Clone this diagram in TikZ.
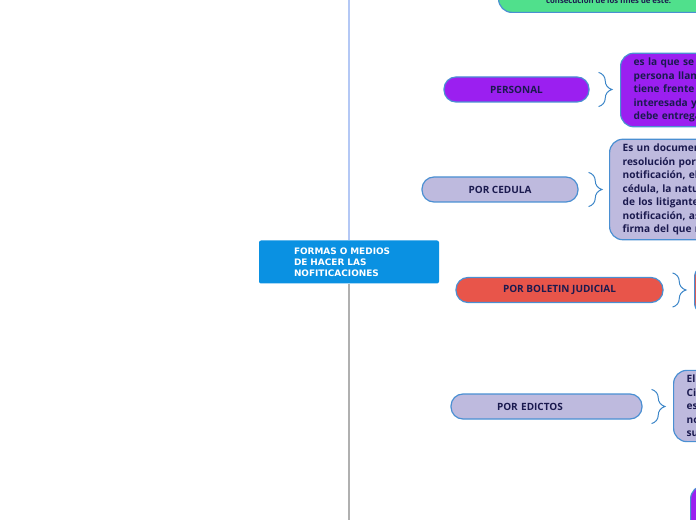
\documentclass[tikz,border=0pt]{standalone}
\usepackage{fontspec}
\setmainfont{Open Sans}
\newfontfamily\rootfont{DejaVu Sans}
\usepackage{tikz}
\usepackage{xcolor}
\usetikzlibrary{decorations.pathreplacing}

\definecolor{rootblue}{HTML}{0A91E2}
\definecolor{edgeblue}{HTML}{4A8FD2}
\definecolor{braceblue}{HTML}{3C86C8}
\definecolor{navytext}{HTML}{1B1A4F}
\definecolor{purplebox}{HTML}{9B1FF0}
\definecolor{lavbox}{HTML}{BEBADE}
\definecolor{redbox}{HTML}{E8554A}
\definecolor{greenbox}{HTML}{50E08C}
\definecolor{spineup}{HTML}{B4C8F5}
\definecolor{spinedown}{HTML}{B0B0B0}

\begin{document}
\begin{tikzpicture}[
    x=0.75pt, y=-0.75pt,
    font=\bfseries\fontsize{7.6}{10.1}\selectfont, text=navytext,
    root/.style={rectangle, rounded corners=1.5pt, fill=rootblue, minimum width=135pt, minimum height=32.25pt, inner xsep=26.25pt, text width=82.5pt, align=left, text=white, font=\rootfont\bfseries\fontsize{6.7}{8.4}\selectfont},
    topic/.style={rectangle, rounded corners=9pt, draw=edgeblue, line width=0.9pt, minimum height=18.75pt, inner sep=0pt, align=center, font=\bfseries\fontsize{7.5}{9}\selectfont},
    note/.style={rectangle, rounded corners=10pt, draw=edgeblue, line width=0.9pt, text width=130pt, inner xsep=9.75pt, inner ysep=3.6pt, align=left, anchor=west},
    brc/.style={draw=braceblue, line width=0.75pt, decorate, decoration={brace, amplitude=10pt}},
    spine/.style={line width=1.1pt}
]

\useasboundingbox (0,0) rectangle (696,520);

\coordinate (top) at (349,0);
\coordinate (bottom) at (349,520);

\node[root] (root) at (349,262) {FORMAS O MEDIOS\\DE HACER LAS\\NOFITICACIONES};
\draw[spine, spineup] (root.north) -- (top);
\draw[spine, spinedown] (root.south) -- (bottom);

\node[rectangle, rounded corners=10pt, draw=edgeblue, line width=0.9pt, fill=greenbox, anchor=south west, minimum width=165pt, inner ysep=7pt, text height=30pt, text depth=0pt, align=center, font=\bfseries\fontsize{5.8}{7}\selectfont] (consec) at (498,13) {consecución de los fines de este.};

\node[topic, fill=purplebox, minimum width=108.75pt] (personal) at (516.5,89.5) {PERSONAL};
\node[topic, fill=lavbox, minimum width=117pt] (cedula) at (500,189.5) {POR CEDULA};
\node[topic, fill=redbox, minimum width=155.25pt] (boletin) at (559.5,290) {POR BOLETIN JUDICIAL};
\node[topic, fill=lavbox, minimum width=143.25pt, inner xsep=34.5pt, text width=74.25pt, align=left] (edictos) at (546.5,406.5) {POR EDICTOS};

\node[note, fill=purplebox] (personaltxt) at (620,90) {es la que se h\\persona llam\\tiene frente a\\interesada y\\debe entrega};
\node[note, fill=lavbox] (cedulatxt) at (609,189.5) {Es un documen\\resolución por r\\notificación, el\\cédula, la natu\\de los litigante\\notificación, as\\firma del que n};
\node[note, fill=redbox, minimum height=39pt] (boletintxt) at (694,290) {};
\node[note, fill=lavbox] (edictostxt) at (673,406) {El\\Ci\\es\\no\\su};
\node[note, fill=purplebox, anchor=north west, minimum height=60pt] (lastbox) at (690,485) {};

\draw[brc] ([xshift=6.75pt,yshift=3pt]personal.north east) -- ([xshift=6.75pt,yshift=-3pt]personal.south east);
\draw[brc] ([xshift=7.5pt,yshift=3pt]cedula.north east) -- ([xshift=7.5pt,yshift=-3pt]cedula.south east);
\draw[brc] ([xshift=6.75pt,yshift=3pt]boletin.north east) -- ([xshift=6.75pt,yshift=-3pt]boletin.south east);
\draw[brc] ([xshift=6.75pt,yshift=3pt]edictos.north east) -- ([xshift=6.75pt,yshift=-3pt]edictos.south east);

\end{tikzpicture}
\end{document}
